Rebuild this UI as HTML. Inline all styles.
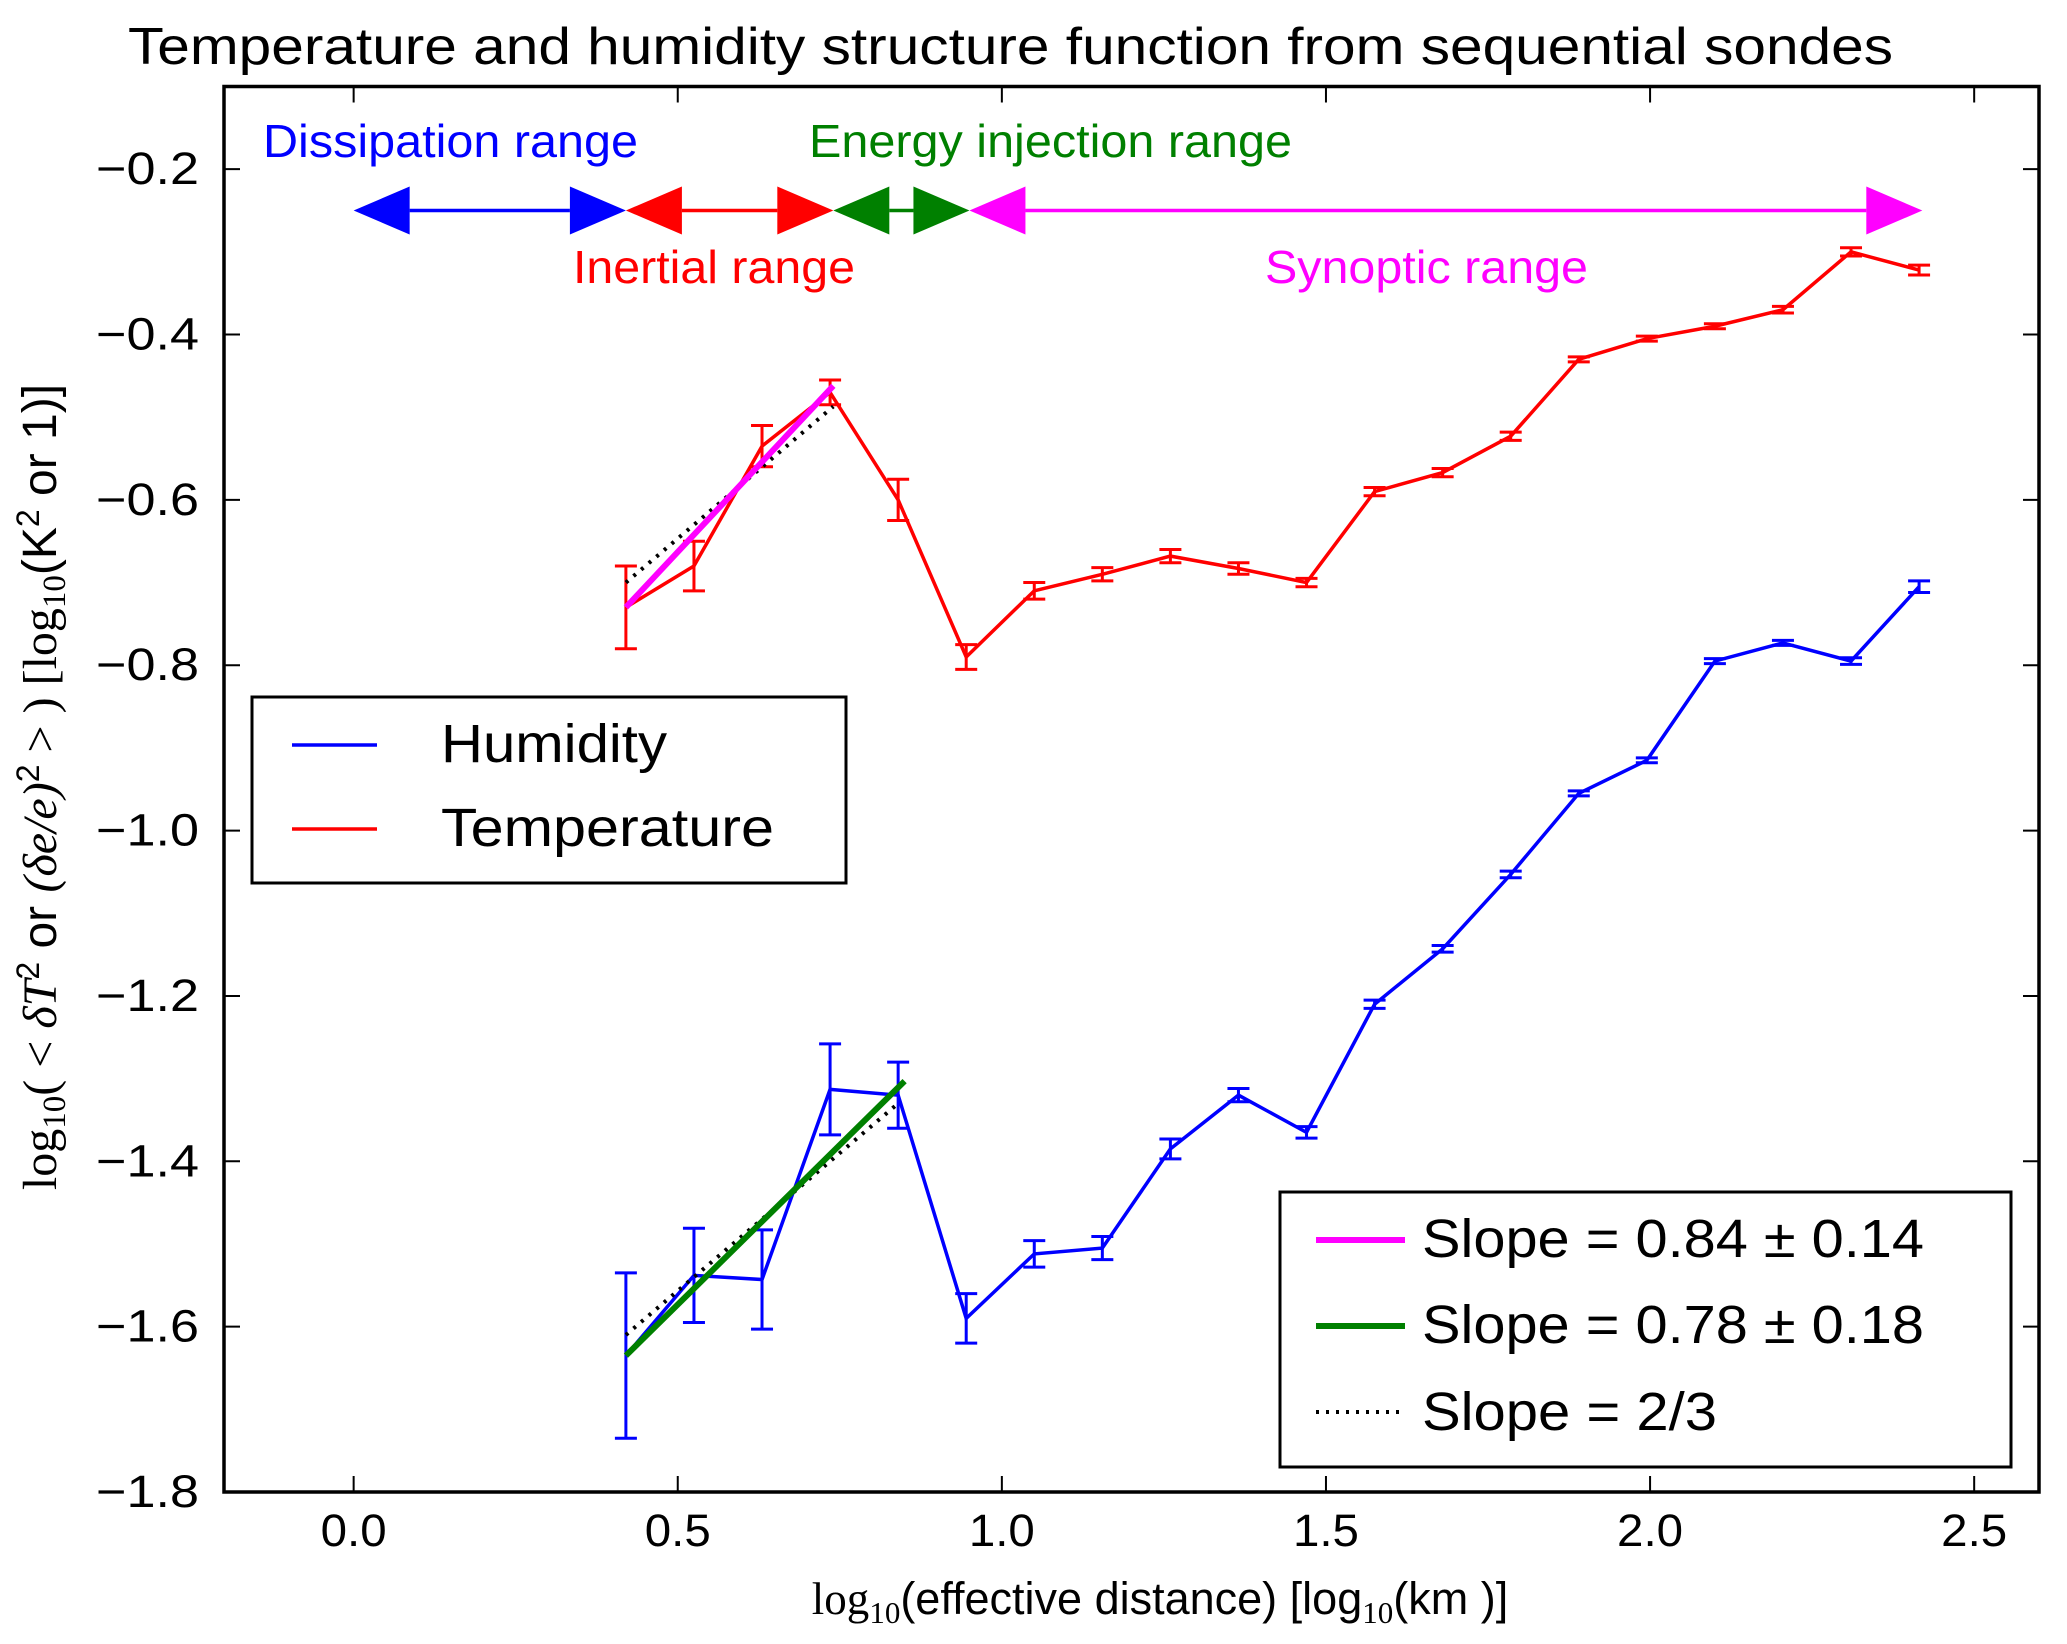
<!DOCTYPE html>
<html><head><meta charset="utf-8"><style>
html,body{margin:0;padding:0;background:#fff}
svg{display:block;font-family:"Liberation Sans",sans-serif}
</style></head><body>
<svg id="chart" width="2067" height="1644" viewBox="0 0 2067 1644" xmlns="http://www.w3.org/2000/svg">
<rect x="0" y="0" width="2067" height="1644" fill="#fff"/>
<text x="128" y="64" font-size="52" textLength="1765" lengthAdjust="spacingAndGlyphs">Temperature and humidity structure function from sequential sondes</text>
<g id="plot"></g>
<text x="263" y="157" font-size="46" fill="#0000ff" textLength="375" lengthAdjust="spacingAndGlyphs">Dissipation range</text>
<text x="809" y="157" font-size="46" fill="#008000" textLength="483" lengthAdjust="spacingAndGlyphs">Energy injection range</text>
<text x="573" y="283" font-size="46" fill="#ff0000" textLength="282" lengthAdjust="spacingAndGlyphs">Inertial range</text>
<text x="1265" y="283" font-size="46" fill="#ff00ff" textLength="323" lengthAdjust="spacingAndGlyphs">Synoptic range</text>
<text x="1160" y="1614" font-size="45" text-anchor="middle"><tspan font-family="Liberation Serif">log</tspan><tspan font-family="Liberation Serif" font-size="31" dy="9">10</tspan><tspan dy="-9">(effective  distance) [log</tspan><tspan font-family="Liberation Serif" font-size="31" dy="9">10</tspan><tspan dy="-9">(km )]</tspan></text>
<text transform="translate(56,787) rotate(-90)" font-size="48" text-anchor="middle"><tspan font-family="Liberation Serif">log</tspan><tspan font-family="Liberation Serif" font-size="33" dy="9">10</tspan><tspan dy="-9" font-family="Liberation Serif">( &lt; </tspan><tspan font-family="Liberation Serif" font-style="italic">δT</tspan><tspan font-size="32" dy="-17">2</tspan><tspan dy="17"> or  </tspan><tspan font-family="Liberation Serif" font-style="italic">(δe/e)</tspan><tspan font-size="32" dy="-17">2</tspan><tspan dy="17" font-family="Liberation Serif"> &gt; ) [log</tspan><tspan font-family="Liberation Serif" font-size="33" dy="9">10</tspan><tspan dy="-9">(K</tspan><tspan font-size="32" dy="-17">2</tspan><tspan dy="17"> or 1)]</tspan></text>
<g>
<rect x="252" y="697" width="594" height="186" fill="#fff" stroke="#000" stroke-width="3"/>
<line x1="292" y1="745" x2="377" y2="745" stroke="#0000ff" stroke-width="3.5"/>
<text x="441" y="762" font-size="54" textLength="226" lengthAdjust="spacingAndGlyphs">Humidity</text>
<line x1="292" y1="829" x2="377" y2="829" stroke="#ff0000" stroke-width="3.5"/>
<text x="441" y="846" font-size="54" textLength="333" lengthAdjust="spacingAndGlyphs">Temperature</text>
</g>
<g>
<rect x="1280" y="1192" width="731" height="275" fill="#fff" stroke="#000" stroke-width="3"/>
<line x1="1316" y1="1240" x2="1405" y2="1240" stroke="#ff00ff" stroke-width="6"/>
<text x="1422" y="1257" font-size="54" textLength="502" lengthAdjust="spacingAndGlyphs">Slope = 0.84 ± 0.14</text>
<line x1="1316" y1="1326" x2="1405" y2="1326" stroke="#008000" stroke-width="6"/>
<text x="1422" y="1343" font-size="54" textLength="502" lengthAdjust="spacingAndGlyphs">Slope = 0.78 ± 0.18</text>
<line x1="1316" y1="1412" x2="1405" y2="1412" stroke="#000" stroke-width="4" stroke-dasharray="3,7"/>
<text x="1422" y="1430" font-size="54" textLength="295" lengthAdjust="spacingAndGlyphs">Slope = 2/3</text>
</g>
</svg>
<script>
const xs = [0.42,0.525,0.63,0.735,0.84,0.945,1.05,1.155,1.26,1.365,1.47,1.575,1.68,1.785,1.89,1.995,2.1,2.205,2.31,2.415];
const tempVals = [-0.73,-0.68,-0.535,-0.47,-0.60,-0.79,-0.71,-0.69,-0.668,-0.683,-0.70,-0.59,-0.567,-0.523,-0.43,-0.405,-0.39,-0.37,-0.30,-0.322];
const tempErr = [0.05,0.03,0.025,0.015,0.025,0.015,0.01,0.008,0.008,0.007,0.005,0.005,0.005,0.005,0.003,0.003,0.003,0.004,0.005,0.006];
const humVals = [-1.635,-1.538,-1.543,-1.313,-1.32,-1.59,-1.512,-1.505,-1.385,-1.32,-1.365,-1.21,-1.143,-1.053,-0.955,-0.915,-0.795,-0.773,-0.795,-0.705];
const humErr = [0.1,0.057,0.06,0.055,0.04,0.03,0.016,0.014,0.012,0.008,0.007,0.005,0.004,0.004,0.003,0.003,0.003,0.003,0.004,0.007];
const xTicks = [0.0,0.5,1.0,1.5,2.0,2.5];
const xTickLabels = ["0.0","0.5","1.0","1.5","2.0","2.5"];
const yTicks = [-0.2,-0.4,-0.6,-0.8,-1.0,-1.2,-1.4,-1.6,-1.8];
const yTickLabels = ["\u22120.2","\u22120.4","\u22120.6","\u22120.8","\u22121.0","\u22121.2","\u22121.4","\u22121.6","\u22121.8"];
const fitTemp = [[0.42,-0.73],[0.74,-0.462]];
const fitHum = [[0.42,-1.635],[0.85,-1.303]];
const refTemp = [[0.42,-0.70],[0.74,-0.487]];
const refHum = [[0.42,-1.61],[0.84,-1.33]];
const ranges = [[0,0.42,"#0000ff"],[0.42,0.74,"#ff0000"],[0.74,0.95,"#008000"],[0.95,2.42,"#ff00ff"]];
const rangeY = -0.25;

const X0=224,X1=2039,Y0=86.5,Y1=1492,xmin=-0.2,xmax=2.6,ymin=-1.8,ymax=-0.1;
function sx(v){return X0+(v-xmin)/(xmax-xmin)*(X1-X0);}
function sy(v){return Y1-(v-ymin)/(ymax-ymin)*(Y1-Y0);}
const NS="http://www.w3.org/2000/svg";
const g=document.getElementById('plot');
function mk(t,a,p){const e=document.createElementNS(NS,t);for(const k in a)e.setAttribute(k,a[k]);(p||g).appendChild(e);return e;}

ranges.forEach(r=>{
  const a=sx(r[0]),b=sx(r[1]),y=sy(rangeY),w=56,h=24;
  const ln=mk('line',{x1:a+w,y1:y,x2:b-w,y2:y,stroke:r[2],'stroke-width':3.5});
  
  
  const p1=mk('polygon',{points:`${a},${y} ${a+w},${y-h} ${a+w},${y+h}`,fill:r[2]});
  
  
  const p2=mk('polygon',{points:`${b},${y} ${b-w},${y-h} ${b-w},${y+h}`,fill:r[2]});
  
  
});

function series(vals,errs,color,name){
  const pts=xs.map((x,i)=>sx(x)+','+sy(vals[i])).join(' ');
  const pl=mk('polyline',{points:pts,fill:'none',stroke:color,'stroke-width':3.5,'stroke-linejoin':'miter'});
  
  
  xs.forEach((x,i)=>{
    const cx=sx(x),t=sy(vals[i]+errs[i]),b=sy(vals[i]-errs[i]);
    const eg=mk('path',{d:`M${cx},${t}V${b}M${cx-11},${t}H${cx+11}M${cx-11},${b}H${cx+11}`,stroke:color,'stroke-width':3,fill:'none'});
    
    
  });
}
series(tempVals,tempErr,'#ff0000','temperature');
series(humVals,humErr,'#0000ff','humidity');

function fline(seg,color,w,dash,name){
  const l=mk('line',{x1:sx(seg[0][0]),y1:sy(seg[0][1]),x2:sx(seg[1][0]),y2:sy(seg[1][1]),stroke:color,'stroke-width':w});
  if(dash)l.setAttribute('stroke-dasharray',dash);
  
  
}
fline(refTemp,'#000',4,'3,7','temperature-two-thirds-line');
fline(refHum,'#000',4,'3,7','humidity-two-thirds-line');
fline(fitTemp,'#ff00ff',6,null,'temperature-fit-line');
fline(fitHum,'#008000',6,null,'humidity-fit-line');

const fr=mk('rect',{x:X0,y:Y0,width:X1-X0,height:Y1-Y0,fill:'none',stroke:'#000','stroke-width':3.5});


xTicks.forEach((v,i)=>{
  const x=sx(v);
  const t=mk('path',{d:`M${x},${Y1}V${Y1-16}M${x},${Y0}V${Y0+16}`,stroke:'#000','stroke-width':2});
  
  
  const l=mk('text',{x:x,y:1546,'font-size':45,'text-anchor':'middle',textLength:66,lengthAdjust:'spacingAndGlyphs'});
  l.textContent=xTickLabels[i];
  
  
});
yTicks.forEach((v,i)=>{
  const y=sy(v);
  const t=mk('path',{d:`M${X0},${y}H${X0+16}M${X1},${y}H${X1-16}`,stroke:'#000','stroke-width':2});
  
  
  const l=mk('text',{x:199,y:y+15,'font-size':45,'text-anchor':'end',textLength:103,lengthAdjust:'spacingAndGlyphs'});
  l.textContent=yTickLabels[i];
  
  
});
</script>
</body></html>
